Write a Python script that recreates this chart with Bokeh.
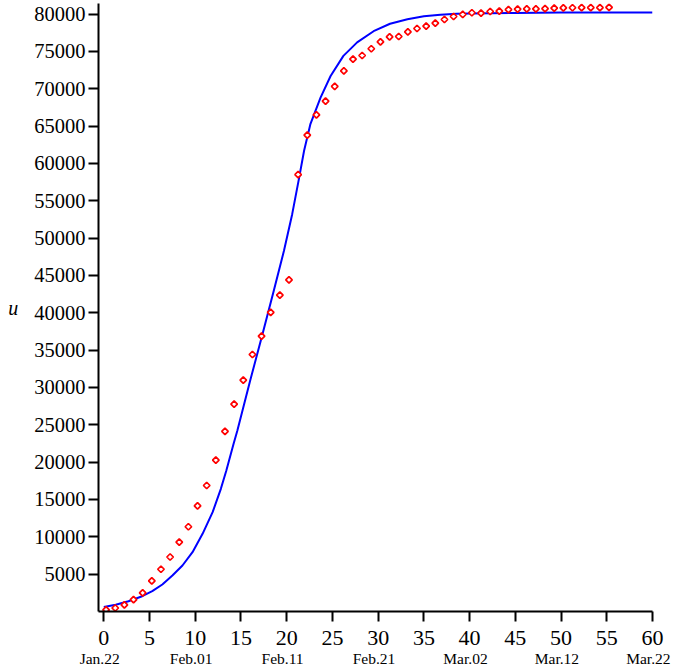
from bokeh.plotting import figure
from bokeh.models import LinearAxis, Range1d, FixedTicker, ColumnDataSource
from bokeh.transform import dodge
from bokeh.embed import file_html
from bokeh.resources import INLINE

# ---- data ----
days = list(range(56))
cases = [230, 470, 900, 1580, 2500, 4110, 5660, 7300, 9300, 11350,
         14150, 16870, 20260, 24120, 27780, 30970, 34410, 36860, 40040, 42350,
         44410, 58510, 63780, 66510, 68330, 70300, 72400, 73960, 74450, 75350,
         76280, 76950, 76990, 77620, 78060, 78370, 78770, 79270, 79670, 79940,
         80170, 80110, 80340, 80380, 80600, 80650, 80680, 80700, 80720, 80800,
         80820, 80840, 80850, 80860, 80870, 80880]

curve_t = [0, 1.3, 2.7, 4.2, 5.3, 6.4, 7.5, 8.6, 9.7, 10.8, 11.9, 12.8, 13.4,
           14.2, 14.6, 16.0, 17.3, 18.6, 19.7, 20.6, 21.3, 21.9, 22.6, 23.7,
           24.8, 26.2, 27.7, 29.5, 31.3, 33.2, 35.0, 36.8, 38.6, 40.1, 45, 50,
           55, 60]
curve_u = [590, 900, 1380, 2050, 2720, 3620, 4820, 6160, 7940, 10400, 13300,
           16430, 18880, 22500, 24200, 30900, 36900, 43000, 48300, 53200, 57700,
           61700, 65300, 68800, 71700, 74400, 76200, 77700, 78700, 79300, 79700,
           79900, 80030, 80080, 80150, 80200, 80200, 80200]

x_ticks = [0, 5, 10, 15, 20, 25, 30, 35, 40, 45, 50, 55, 60]
y_ticks = [5000, 10000, 15000, 20000, 25000, 30000, 35000, 40000, 45000,
           50000, 55000, 60000, 65000, 70000, 75000, 80000]
date_ticks = [0, 10, 20, 30, 40, 50, 60]
date_labels = ["Jan.22", "Feb.01", "Feb.11", "Feb.21", "Mar.02", "Mar.12", "Mar.22"]

FONT = "Liberation Serif"

p = figure(width=673, height=669,
           x_range=Range1d(-0.58, 60), y_range=Range1d(0, 81410),
           output_backend="svg", toolbar_location=None,
           min_border_left=98, min_border_right=21,
           min_border_top=3, min_border_bottom=58)
p.grid.visible = False
p.outline_line_color = None
p.background_fill_color = "white"

# main x axis
xa = p.xaxis[0]
xa.ticker = FixedTicker(ticks=x_ticks)
xa.minor_tick_line_color = None
xa.major_tick_in = 0
xa.major_tick_out = 10
xa.major_tick_line_width = 2
xa.axis_line_width = 2
xa.major_label_standoff = 9
xa.major_label_text_font = FONT
xa.major_label_text_font_size = "22px"
xa.major_label_text_color = "black"

# y axis
ya = p.yaxis[0]
ya.ticker = FixedTicker(ticks=y_ticks)
ya.minor_tick_line_color = None
ya.major_tick_in = 0
ya.major_tick_out = 10
ya.major_tick_line_width = 2
ya.axis_line_width = 2
ya.major_label_standoff = 3
ya.major_label_text_font = FONT
ya.major_label_text_font_size = "20.5px"
ya.major_label_text_color = "black"
ya.axis_label = "u"
ya.axis_label_text_font = FONT
ya.axis_label_text_font_style = "italic"
ya.axis_label_text_font_size = "20px"
ya.axis_label_text_color = "black"
ya.axis_label_standoff = 13
try:
    ya.axis_label_orientation = "horizontal"
except Exception:
    pass

# date labels on a second bottom axis
p.extra_x_ranges = {"dates": Range1d(-0.58 + 0.45, 60 + 0.45)}
da = LinearAxis(x_range_name="dates",
                ticker=FixedTicker(ticks=date_ticks),
                major_label_overrides={t: s for t, s in zip(date_ticks, date_labels)},
                axis_line_color=None, major_tick_line_color=None,
                minor_tick_line_color=None, major_tick_out=0, major_tick_in=0,
                major_label_standoff=2,
                major_label_text_font=FONT,
                major_label_text_font_size="15.5px",
                major_label_text_color="black")
p.add_layout(da, "below")

# fitted curve
p.line(curve_t, curve_u, line_color="#0000FF", line_width=2)

# observed data
src = ColumnDataSource(dict(day=days, cases=cases))
p.scatter(x=dodge("day", 0.25, range=p.x_range), y="cases", source=src,
          marker="square", angle=0.785398, size=4.6,
          line_color="#FF0000", line_width=1.7, fill_color="white")

open("out.html", "w").write(file_html(p, INLINE))
